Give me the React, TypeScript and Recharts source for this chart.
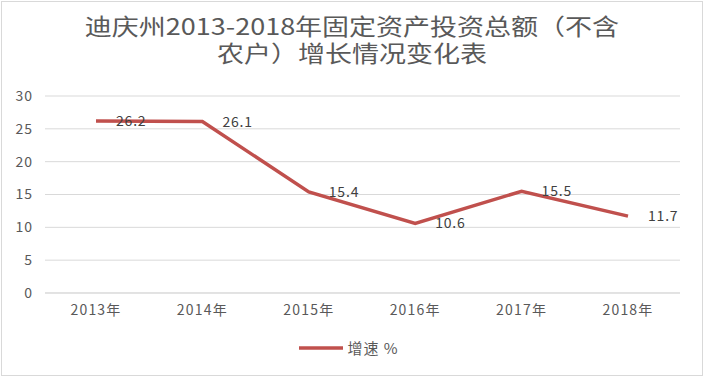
import { LineChart, Line, XAxis, YAxis, CartesianGrid, LabelList, Legend } from 'recharts';

const YEARS = ['2013年', '2014年', '2015年', '2016年', '2017年', '2018年'];
const GROWTH = [26.2, 26.1, 15.4, 10.6, 15.5, 11.7];
const Y_TICKS = [0, 5, 10, 15, 20, 25, 30];
const SERIES_NAME = '增速 %';
const TITLE_LINES = ['迪庆州2013-2018年固定资产投资总额（不含', '农户）增长情况变化表'];

const RED = '#C0504D';
const FONT = '"Noto Sans CJK SC", "Noto Sans", sans-serif';

const data = YEARS.map((year, i) => ({ year, [SERIES_NAME]: GROWTH[i] }));

function LegendContent(props: any) {
  const items = props.payload || [];
  return (
    <div style={{ display: 'flex', justifyContent: 'center', alignItems: 'center', fontFamily: FONT, paddingLeft: 10 }}>
      {items.map((p: any) => (
        <div key={p.value} style={{ display: 'flex', alignItems: 'center' }}>
          <svg width={44} height={8} style={{ marginRight: 4 }}>
            <line x1={0} y1={4} x2={44} y2={4} stroke={RED} strokeWidth={3.5} />
          </svg>
          <span style={{ fontSize: 15, color: '#595959', letterSpacing: 1 }}>{p.value}</span>
        </div>
      ))}
    </div>
  );
}

export default function App() {
  return (
    <div style={{ position: 'absolute', left: 0, top: 0, width: 704, height: 377, background: '#fff', fontFamily: FONT }}>
      <div style={{
        position: 'absolute', left: 1, top: 1, width: 700, height: 373,
        border: '1px solid #d9d9d9',
      }} />
      <div style={{
        position: 'absolute', top: 12, left: 0, width: 704, textAlign: 'center',
        fontSize: 22.5, lineHeight: '27px', color: '#595959',
        transform: 'scaleX(1.2)', transformOrigin: '352px 0',
      }}>
        {TITLE_LINES.map(t => <div key={t}>{t}</div>)}
      </div>
      <div style={{ position: 'absolute', left: 0, top: 0 }}>
        <LineChart width={704} height={377} data={data} margin={{ top: 96, right: 24, left: 8, bottom: 10 }}>
          <CartesianGrid vertical={false} stroke="#d9d9d9" strokeWidth={1} />
          <XAxis
            dataKey="year"
            axisLine={{ stroke: '#d9d9d9' }}
            tickLine={false}
            tickMargin={6}
            height={44}
            padding={{ left: 51, right: 52 }}
            tick={{ fill: '#595959', fontSize: 14, fontFamily: FONT, letterSpacing: 1.2 }}
          />
          <YAxis
            domain={[0, 30]}
            ticks={Y_TICKS}
            axisLine={false}
            tickLine={false}
            tickMargin={6}
            width={37}
            tick={{ fill: '#595959', fontSize: 14, fontFamily: FONT, letterSpacing: 1 }}
          />
          <Legend verticalAlign="bottom" height={30} content={<LegendContent />} />
          <Line
            type="linear"
            dataKey={SERIES_NAME}
            stroke={RED}
            strokeWidth={3.5}
            dot={false}
            isAnimationActive={false}
          >
            <LabelList dataKey={SERIES_NAME} position="right" offset={20} fill="#404040" fontSize={14} fontFamily={FONT} letterSpacing={0.8} />
          </Line>
        </LineChart>
      </div>
    </div>
  );
}
